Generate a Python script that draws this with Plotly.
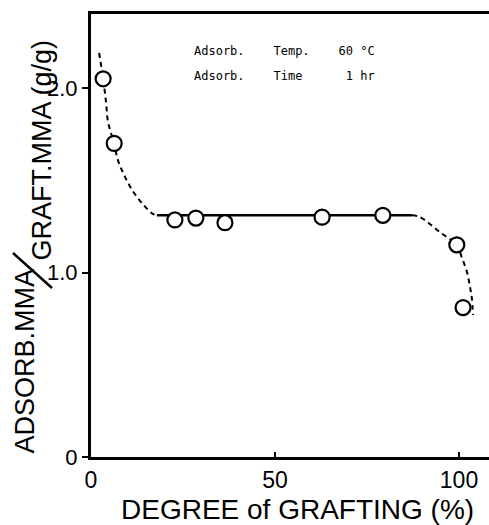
import plotly.graph_objects as go

# Measured points: degree of grafting (%) vs adsorbed MMA / grafted MMA (g/g)
grafting = [3.3, 6.3, 22.8, 28.5, 36.4, 62.8, 79.3, 99.4, 101.1]
ratio = [2.05, 1.70, 1.285, 1.295, 1.27, 1.30, 1.31, 1.15, 0.81]

# Plateau (solid) line
plateau_x = [17.9, 87.2]
plateau_y = [1.31, 1.31]

# Dashed trend curve at low grafting
low_x = [2.2, 3.3, 4.1, 4.6, 6.25, 7.3, 9.2, 11.4, 14.1, 16.6, 17.9]
low_y = [2.19, 2.05, 1.92, 1.82, 1.70, 1.61, 1.52, 1.44, 1.37, 1.32, 1.31]

# Dashed trend curve at high grafting
high_x = [87.2, 89.4, 95.4, 99.4, 100.8, 102.2, 103.0, 103.5, 103.8]
high_y = [1.31, 1.30, 1.21, 1.15, 1.08, 1.00, 0.92, 0.86, 0.77]

x_ticks = [0, 50, 100]
x_tick_text = ["0", "50", "100"]
y_ticks = [0, 1.0, 2.0]
y_tick_text = ["0", "1.0", "2.0"]

W, H = 489, 525
L, R, T, B = 91, 0, 14, 68
pw, ph = W - L - R, H - T - B


def px_to_paper(px, py):
    return (px - L) / pw, (H - B - py) / ph


fig = go.Figure()

fig.add_trace(go.Scatter(x=low_x, y=low_y, mode="lines", line_shape="spline",
                         line=dict(color="black", width=2, dash="5px,4px"),
                         hoverinfo="skip"))
fig.add_trace(go.Scatter(x=high_x, y=high_y, mode="lines", line_shape="spline",
                         line=dict(color="black", width=2, dash="5px,4px"),
                         hoverinfo="skip"))
fig.add_trace(go.Scatter(x=plateau_x, y=plateau_y, mode="lines",
                         line=dict(color="black", width=2.5)))
fig.add_trace(go.Scatter(x=grafting, y=ratio, mode="markers",
                         marker=dict(symbol="circle", size=15, color="white",
                                     line=dict(color="black", width=2.2))))

sans = "Liberation Sans, Arial, sans-serif"
mono = "DejaVu Sans Mono, Liberation Mono, monospace"
nb = "\u00a0"

annotations = [
    dict(x=27.4, y=2.20, xref="x", yref="y", xanchor="left", yanchor="middle",
         text=f"Adsorb.{nb*4}Temp.{nb*4}60{nb}°C", showarrow=False,
         font=dict(family=mono, size=12, color="black")),
    dict(x=27.4, y=2.065, xref="x", yref="y", xanchor="left", yanchor="middle",
         text=f"Adsorb.{nb*4}Time{nb*6}1{nb}hr", showarrow=False,
         font=dict(family=mono, size=12, color="black")),
]

# Y-axis title written as a diagonal fraction
ax, ay = px_to_paper(24, 361.5)
annotations.append(dict(x=ax, y=ay, xref="paper", yref="paper", text="ADSORB.MMA",
                        textangle=-90, showarrow=False, xanchor="center", yanchor="middle",
                        font=dict(family=sans, size=27, color="black")))
bx, by = px_to_paper(41, 150.5)
annotations.append(dict(x=bx, y=by, xref="paper", yref="paper", text="GRAFT.MMA (g/g)",
                        textangle=-90, showarrow=False, xanchor="center", yanchor="middle",
                        font=dict(family=sans, size=27, color="black")))
# X-axis title
cx, cy = px_to_paper(297, 509)
annotations.append(dict(x=cx, y=cy, xref="paper", yref="paper",
                        text="DEGREE of GRAFTING (%)", showarrow=False,
                        xanchor="center", yanchor="middle",
                        font=dict(family=sans, size=28, color="black")))

s0x, s0y = px_to_paper(13, 253)
s1x, s1y = px_to_paper(52, 288)
shapes = [dict(type="line", xref="paper", yref="paper", x0=s0x, y0=s0y, x1=s1x, y1=s1y,
               line=dict(color="black", width=2.5))]

fig.update_layout(
    width=W, height=H,
    margin=dict(l=L, r=R, t=T, b=B, pad=0),
    paper_bgcolor="white", plot_bgcolor="white",
    showlegend=False,
    annotations=annotations,
    shapes=shapes,
    xaxis=dict(range=[0, (W - L - R) / 3.68], tickvals=x_ticks, ticktext=x_tick_text,
               ticks="inside", ticklen=5, tickwidth=2, tickcolor="black",
               showline=True, linecolor="black", linewidth=3, mirror=True,
               showgrid=False, zeroline=False,
               tickfont=dict(family=sans, size=23, color="black")),
    yaxis=dict(range=[0, ph / 184.5], tickvals=y_ticks, ticktext=y_tick_text,
               ticks="outside", ticklen=6, tickwidth=2, tickcolor="black",
               showline=True, linecolor="black", linewidth=3, mirror=False,
               showgrid=False, zeroline=False,
               tickfont=dict(family=sans, size=22, color="black")),
)

fig.write_html("out.html")
